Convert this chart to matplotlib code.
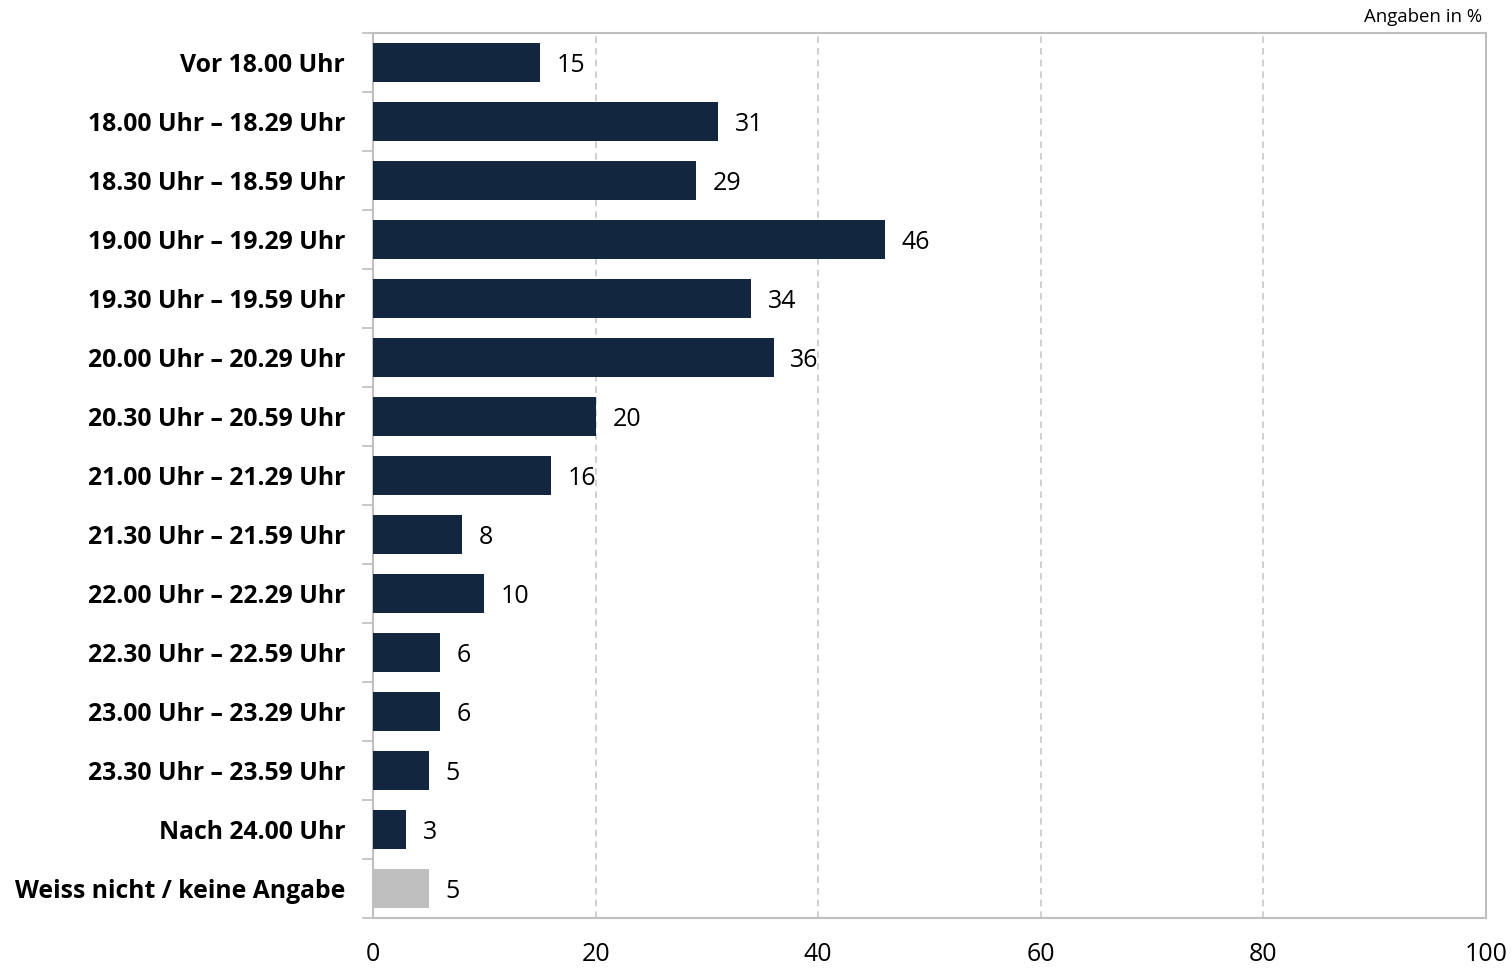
import matplotlib
matplotlib.use("Agg")
import matplotlib.pyplot as plt

categories = ["Vor 18.00 Uhr", "18.00 Uhr – 18.29 Uhr", "18.30 Uhr – 18.59 Uhr",
              "19.00 Uhr – 19.29 Uhr", "19.30 Uhr – 19.59 Uhr", "20.00 Uhr – 20.29 Uhr",
              "20.30 Uhr – 20.59 Uhr", "21.00 Uhr – 21.29 Uhr", "21.30 Uhr – 21.59 Uhr",
              "22.00 Uhr – 22.29 Uhr", "22.30 Uhr – 22.59 Uhr", "23.00 Uhr – 23.29 Uhr",
              "23.30 Uhr – 23.59 Uhr", "Nach 24.00 Uhr", "Weiss nicht / keine Angabe"]
values = [15, 31, 29, 46, 34, 36, 20, 16, 8, 10, 6, 6, 5, 3, 5]
colors = ["#12263f"] * 14 + ["#bfbfbf"]
xticks = [0, 20, 40, 60, 80, 100]

plt.rcParams['font.family'] = ['Open Sans', 'DejaVu Sans']

fig = plt.figure(figsize=(15.12, 9.69), dpi=100)
W, H = 1512, 969
ax = fig.add_axes([373 / W, 1 - 918 / H, (1486 - 373) / W, (918 - 33) / H])

n = len(categories)
ypos = list(range(n))
ax.barh(ypos, values, height=0.66, color=colors, zorder=3)
ax.set_ylim(n - 0.5, -0.5)
ax.set_xlim(0, 100)

for y, v in zip(ypos, values):
    ax.text(v + 1.5, y, str(v), va="center_baseline", ha="left", fontsize=18,
            color="#000000", zorder=4)

ax.set_xticks(xticks)
ax.set_xticklabels([str(t) for t in xticks], fontsize=18)
ax.tick_params(axis="x", length=0, pad=17)

ax.set_yticks(ypos)
ax.set_yticklabels(categories, fontsize=17.8, fontweight="bold")
ax.tick_params(axis="y", which="major", length=0, pad=20)
ax.set_yticks([i - 0.5 for i in range(n + 1)], minor=True)
ax.tick_params(axis="y", which="minor", length=8, color="#bfbfbf", width=1.2)

for x in xticks[1:-1]:
    ax.axvline(x, color="#c8c8c8", linestyle=(0, (4, 3)), linewidth=1.2, zorder=1)

for s in ax.spines.values():
    s.set_color("#bfbfbf")
    s.set_linewidth(1.5)

fig.text(1482 / W, 1 - 17 / H, "Angaben in %", ha="right", va="center", fontsize=13.4)

fig.savefig("out.png", dpi=100)
